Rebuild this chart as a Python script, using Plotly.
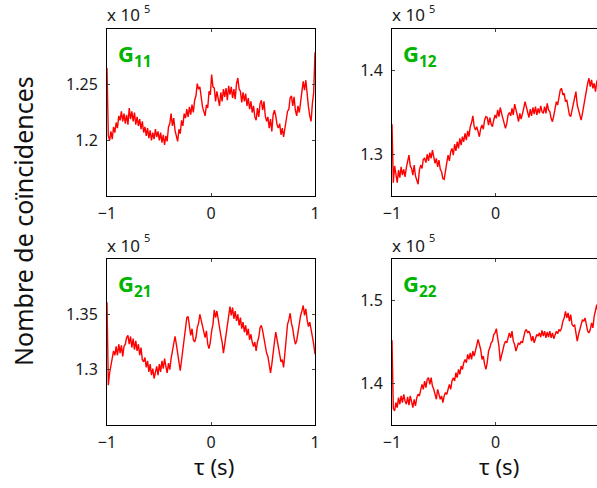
import numpy as np
import plotly.graph_objects as go

# Coincidence counts (x 10^5), tau from -1 s to 1 s
g11 = [
    1.265, 1.204, 1.200, 1.208, 1.201, 1.212, 1.207, 1.216, 1.211, 1.222,
    1.218, 1.226, 1.217, 1.224, 1.215, 1.223, 1.214, 1.229, 1.219, 1.226,
    1.217, 1.225, 1.214, 1.221, 1.213, 1.219, 1.210, 1.217, 1.207, 1.212,
    1.204, 1.211, 1.202, 1.209, 1.200, 1.207, 1.201, 1.210, 1.203, 1.208,
    1.200, 1.207, 1.198, 1.205, 1.196, 1.204, 1.199, 1.212, 1.215, 1.224,
    1.213, 1.220, 1.209, 1.204, 1.199, 1.210, 1.206, 1.218, 1.213, 1.224,
    1.220, 1.228, 1.221, 1.230, 1.223, 1.232, 1.225, 1.236, 1.240, 1.251,
    1.246, 1.248, 1.237, 1.230, 1.226, 1.222, 1.232, 1.229, 1.244, 1.241,
    1.259, 1.248, 1.247, 1.235, 1.244, 1.236, 1.231, 1.243, 1.235, 1.246,
    1.239, 1.247, 1.236, 1.249, 1.241, 1.248, 1.238, 1.246, 1.237, 1.251,
    1.256, 1.246, 1.244, 1.234, 1.243, 1.235, 1.242, 1.231, 1.238, 1.228,
    1.235, 1.225, 1.231, 1.221, 1.218, 1.229, 1.221, 1.233, 1.236, 1.227,
    1.235, 1.222, 1.217, 1.221, 1.211, 1.219, 1.208, 1.223, 1.227, 1.222,
    1.214, 1.211, 1.215, 1.205, 1.211, 1.203, 1.210, 1.215, 1.226, 1.228,
    1.238, 1.240, 1.231, 1.239, 1.227, 1.222, 1.231, 1.225, 1.238, 1.244,
    1.253, 1.245, 1.254, 1.239, 1.230, 1.222, 1.217, 1.233, 1.243, 1.279,
]
g12 = [
    1.336, 1.266, 1.286, 1.274, 1.266, 1.281, 1.272, 1.285, 1.275, 1.282,
    1.273, 1.284, 1.290, 1.299, 1.286, 1.283, 1.275, 1.287, 1.274, 1.268,
    1.264, 1.281, 1.287, 1.283, 1.294, 1.295, 1.290, 1.300, 1.292, 1.302,
    1.295, 1.305, 1.297, 1.289, 1.295, 1.285, 1.293, 1.282, 1.279, 1.271,
    1.270, 1.284, 1.290, 1.299, 1.292, 1.303, 1.307, 1.299, 1.312, 1.304,
    1.315, 1.307, 1.319, 1.311, 1.321, 1.315, 1.325, 1.317, 1.328, 1.321,
    1.333, 1.338, 1.346, 1.333, 1.329, 1.333, 1.325, 1.321, 1.331, 1.335,
    1.330, 1.341, 1.345, 1.344, 1.335, 1.344, 1.336, 1.333, 1.341, 1.347,
    1.343, 1.353, 1.345, 1.356, 1.349, 1.343, 1.335, 1.331, 1.337, 1.347,
    1.350, 1.346, 1.355, 1.347, 1.360, 1.351, 1.347, 1.339, 1.349, 1.342,
    1.351, 1.355, 1.363, 1.356, 1.351, 1.344, 1.354, 1.346, 1.356, 1.348,
    1.357, 1.347, 1.355, 1.349, 1.358, 1.351, 1.349, 1.357, 1.349, 1.361,
    1.353, 1.351, 1.343, 1.339, 1.346, 1.357, 1.363, 1.359, 1.367, 1.377,
    1.379, 1.371, 1.373, 1.363, 1.365, 1.357, 1.347, 1.345, 1.353, 1.363,
    1.367, 1.375, 1.359, 1.353, 1.345, 1.341, 1.349, 1.359, 1.367, 1.377,
    1.385, 1.391, 1.381, 1.389, 1.379, 1.385, 1.375, 1.387, 1.391, 1.389,
]
g21 = [
    1.361, 1.286, 1.297, 1.303, 1.311, 1.317, 1.313, 1.321, 1.313, 1.323,
    1.315, 1.322, 1.312, 1.321, 1.323, 1.329, 1.331, 1.323, 1.330, 1.320,
    1.328, 1.318, 1.326, 1.317, 1.323, 1.313, 1.320, 1.309, 1.307, 1.311,
    1.302, 1.308, 1.298, 1.305, 1.295, 1.301, 1.292, 1.298, 1.303, 1.295,
    1.305, 1.298, 1.308, 1.301, 1.310, 1.303, 1.297, 1.306, 1.300, 1.310,
    1.317, 1.327, 1.330, 1.323, 1.313, 1.307, 1.299, 1.309, 1.315, 1.329,
    1.334, 1.347, 1.348, 1.341, 1.331, 1.337, 1.327, 1.325, 1.329, 1.338,
    1.342, 1.350, 1.344, 1.341, 1.332, 1.329, 1.335, 1.323, 1.319, 1.325,
    1.335, 1.341, 1.354, 1.347, 1.353, 1.344, 1.339, 1.331, 1.325, 1.315,
    1.323, 1.331, 1.341, 1.347, 1.357, 1.349, 1.356, 1.346, 1.353, 1.344,
    1.350, 1.340, 1.347, 1.337, 1.343, 1.334, 1.340, 1.331, 1.337, 1.327,
    1.332, 1.325, 1.321, 1.325, 1.317, 1.325, 1.329, 1.338, 1.340, 1.335,
    1.327, 1.323, 1.315, 1.312, 1.303, 1.297, 1.305, 1.319, 1.325, 1.334,
    1.327, 1.321, 1.312, 1.307, 1.309, 1.302, 1.315, 1.327, 1.341, 1.345,
    1.351, 1.342, 1.337, 1.329, 1.323, 1.326, 1.335, 1.339, 1.349, 1.353,
    1.358, 1.349, 1.355, 1.345, 1.339, 1.343, 1.337, 1.329, 1.323, 1.314,
]
g22 = [
    1.452, 1.370, 1.367, 1.377, 1.371, 1.383, 1.375, 1.385, 1.377, 1.387,
    1.379, 1.375, 1.384, 1.374, 1.385, 1.377, 1.371, 1.381, 1.373, 1.383,
    1.387, 1.385, 1.391, 1.399, 1.393, 1.403, 1.395, 1.405, 1.407, 1.399,
    1.407, 1.397, 1.393, 1.385, 1.381, 1.393, 1.385, 1.381, 1.385, 1.377,
    1.385, 1.389, 1.387, 1.393, 1.399, 1.393, 1.403, 1.407, 1.403, 1.413,
    1.407, 1.417, 1.411, 1.421, 1.417, 1.425, 1.429, 1.425, 1.435, 1.429,
    1.437, 1.429, 1.439, 1.433, 1.441, 1.445, 1.453, 1.447, 1.441, 1.429,
    1.433, 1.423, 1.417, 1.425, 1.439, 1.443, 1.449, 1.451, 1.459, 1.461,
    1.466, 1.455, 1.445, 1.427, 1.435, 1.439, 1.447, 1.451, 1.449, 1.455,
    1.461, 1.455, 1.463, 1.451, 1.447, 1.439, 1.445, 1.449, 1.447, 1.451,
    1.449, 1.455, 1.463, 1.465, 1.461, 1.463, 1.459, 1.451, 1.457, 1.449,
    1.455, 1.459, 1.457, 1.461, 1.456, 1.464, 1.457, 1.463, 1.455, 1.462,
    1.456, 1.463, 1.455, 1.461, 1.454, 1.459, 1.463, 1.460, 1.465, 1.463,
    1.467, 1.475, 1.479, 1.487, 1.479, 1.485, 1.475, 1.483, 1.471, 1.469,
    1.471, 1.461, 1.451, 1.459, 1.465, 1.473, 1.477, 1.475, 1.479, 1.471,
    1.463, 1.461, 1.465, 1.473, 1.467, 1.481, 1.489, 1.495, 1.485, 1.491,
]
tau = np.linspace(-1, 1, len(g11))

panels = [
    # name, values, y range, y ticks, tick text, column, row
    ('11', g11, [1.15, 1.30], [1.2, 1.25], ['1.2', '1.25'], 'left', 'top'),
    ('12', g12, [1.25, 1.45], [1.3, 1.4], ['1.3', '1.4'], 'right', 'top'),
    ('21', g21, [1.25, 1.40], [1.3, 1.35], ['1.3', '1.35'], 'left', 'bottom'),
    ('22', g22, [1.35, 1.55], [1.4, 1.5], ['1.4', '1.5'], 'right', 'bottom'),
]

W, H = 597, 488


def px(x):
    return x / W


def py(y):
    return 1 - y / H


x_dom = {'left': (107, 315), 'right': (392, 597)}
y_dom = {'top': (29, 196), 'bottom': (259, 425)}

fig = go.Figure()
font = 'Noto Sans'
tick_font = dict(family=font, size=16, color='#1a1a1a')

for i, (name, vals, yr, tv, tt, col, row) in enumerate(panels):
    n = '' if i == 0 else str(i + 1)
    fig.add_trace(go.Scatter(
        x=tau, y=vals, mode='lines',
        line=dict(color='#ff0000', width=1.4),
        xaxis='x' + n, yaxis='y' + n, showlegend=False,
    ))
    x0, x1 = x_dom[col]
    y0, y1 = y_dom[row]
    # the right column is cut off by the page edge just before tau = 1
    xrange_ = [-1, 1] if col == 'left' else [-1, -1 + (x1 - x0) / 103.7]
    fig.layout['xaxis' + n] = dict(
        domain=[px(x0), px(x1)], range=xrange_, anchor='y' + n,
        tickvals=[-1, 0, 1], ticktext=['\u22121', '0', '1'],
        ticks='inside', ticklen=3,
        showline=True, linecolor='black', linewidth=1, mirror='ticks',
        showgrid=False, zeroline=False, automargin=False,
        ticklabelstandoff=3, tickfont=tick_font,
    )
    fig.layout['yaxis' + n] = dict(
        domain=[py(y1), py(y0)], range=yr, anchor='x' + n,
        tickvals=tv, ticktext=tt, ticks='inside', ticklen=3,
        showline=True, linecolor='black', linewidth=1,
        mirror='ticks' if col == 'left' else False,
        showgrid=False, zeroline=False, automargin=False,
        ticklabelstandoff=5, tickfont=tick_font,
    )
    # exponent label above each box: "x 10" with a raised 5
    fig.add_annotation(
        text='x 10', x=px(x0 - 2), y=py(y0 - 14),
        xref='paper', yref='paper', xanchor='left', yanchor='middle',
        showarrow=False, font=dict(family=font, size=17, color='#1a1a1a'),
    )
    fig.add_annotation(
        text='5', x=px(x0 + 35), y=py(y0 - 21),
        xref='paper', yref='paper', xanchor='left', yanchor='middle',
        showarrow=False, font=dict(family=font, size=11, color='#1a1a1a'),
    )
    # panel name in green
    fig.add_annotation(
        text='<b>G<sub>' + name + '</sub></b>', x=px(x0 + 9), y=py(y0 + 7),
        xref='paper', yref='paper', xanchor='left', yanchor='top',
        showarrow=False, font=dict(family=font, size=22, color='#00b400'),
    )

for xc in (214, 499):
    fig.add_annotation(
        text='τ (s)', x=px(xc), y=py(466), xref='paper', yref='paper',
        xanchor='center', yanchor='middle', showarrow=False,
        font=dict(family=font, size=22, color='#111'),
    )

fig.add_annotation(
    text='Nombre de coïncidences', x=px(23), y=py(221),
    xref='paper', yref='paper', xanchor='center', yanchor='middle',
    textangle=-90, showarrow=False,
    font=dict(family=font, size=25, color='#111'),
)

fig.update_layout(
    width=W, height=H,
    margin=dict(l=0, r=0, t=0, b=0),
    plot_bgcolor='white', paper_bgcolor='white',
)

# drop the default 8px page margin so the figure fills the window
fig.write_html(
    "out.html",
    config={'displayModeBar': False},
    post_script="document.body.style.margin = '0';",
)
